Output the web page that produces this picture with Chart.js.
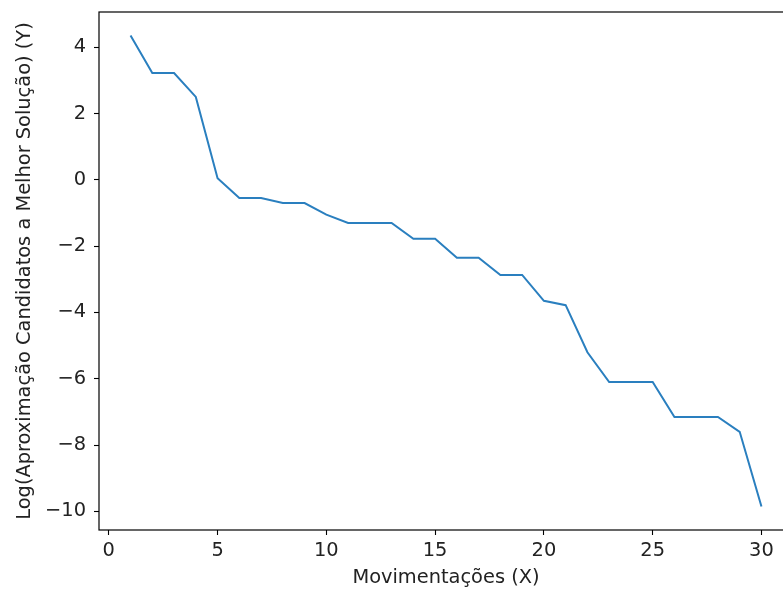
<!DOCTYPE html>
<html>
<head>
<meta charset="utf-8">
<script src="https://cdn.jsdelivr.net/npm/chart.js@4/dist/chart.umd.min.js"></script>
<style>
  html, body { margin: 0; padding: 0; background: #fff; overflow: hidden; }
  #wrap { width: 800px; height: 592px; position: relative; }
</style>
</head>
<body>
<div id="wrap"><canvas id="chart"></canvas></div>
<script>
// Movimentações vs log da aproximação dos candidatos
const moves = [1, 2, 3, 4, 5, 6, 7, 8, 9, 10, 11, 12, 13, 14, 15, 16, 17, 18, 19, 20, 21, 22, 23, 24, 25, 26, 27, 28, 29, 30];
const logApprox = [4.35, 3.22, 3.22, 2.5, 0.05, -0.55, -0.55, -0.7, -0.7, -1.05, -1.3, -1.3, -1.3, -1.78, -1.78,
  -2.35, -2.35, -2.87, -2.87, -3.65, -3.78, -5.2, -6.1, -6.1, -6.1, -7.15, -7.15, -7.15, -7.6, -9.85];
const xTicks = [0, 5, 10, 15, 20, 25, 30];
const yTicks = [-10, -8, -6, -4, -2, 0, 2, 4];

const FONT = 'DejaVu Sans';
const SIZE = 19.4;
const minus = v => String(v).replace('-', '\u2212');

// full frame around the plot area, like matplotlib spines
const framePlugin = {
  id: 'frame',
  afterDraw(chart) {
    const { ctx, chartArea: a } = chart;
    ctx.save();
    ctx.strokeStyle = '#000';
    ctx.lineWidth = 1.2;
    ctx.strokeRect(a.left, a.top, a.right - a.left, a.bottom - a.top);
    ctx.restore();
  }
};

new Chart(document.getElementById('chart'), {
  type: 'line',
  data: {
    labels: moves,
    datasets: [{
      data: moves.map((m, i) => ({ x: m, y: logApprox[i] })),
      borderColor: '#2a7fbf',
      borderWidth: 2,
      pointRadius: 0,
      tension: 0,
      fill: false
    }]
  },
  options: {
    responsive: true,
    maintainAspectRatio: false,
    animation: false,
    layout: { autoPadding: false, padding: { left: 0, top: 12, right: 7, bottom: 0 } },
    plugins: { legend: { display: false }, tooltip: { enabled: false } },
    scales: {
      x: {
        type: 'linear',
        min: -0.45,
        max: 31.45,
        afterBuildTicks: axis => { axis.ticks = xTicks.map(v => ({ value: v })); },
        afterFit: axis => { axis.height = 62; axis.paddingLeft = 0; axis.paddingRight = 0; },
        grid: { drawOnChartArea: false, drawTicks: true, tickLength: 5, tickColor: '#000', tickWidth: 1.1 },
        border: { display: false },
        ticks: { color: '#222', font: { family: FONT, size: SIZE }, padding: 4, maxRotation: 0, callback: v => minus(v) },
        title: { display: true, text: 'Movimentações (X)', color: '#222', font: { family: FONT, size: SIZE }, padding: { top: 0, bottom: 2 } }
      },
      y: {
        min: -10.56,
        max: 5.06,
        afterBuildTicks: axis => { axis.ticks = yTicks.map(v => ({ value: v })); },
        afterFit: axis => { axis.width = 99; axis.paddingTop = 0; axis.paddingBottom = 0; },
        grid: { drawOnChartArea: false, drawTicks: true, tickLength: 5, tickColor: '#000', tickWidth: 1.1 },
        border: { display: false },
        ticks: { color: '#222', font: { family: FONT, size: SIZE }, padding: 8, callback: v => minus(v) },
        title: { display: true, text: 'Log(Aproximação Candidatos a Melhor Solução) (Y)', color: '#222', font: { family: FONT, size: SIZE }, padding: { top: 13, bottom: 0 } }
      }
    }
  },
  plugins: [framePlugin]
});
</script>
</body>
</html>
